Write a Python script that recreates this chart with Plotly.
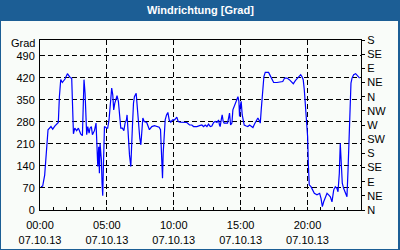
import plotly.graph_objects as go

# ---- data (hours since 00:00 on 07.10.13, wind direction in degrees) ----
hours = [0.07, 0.2, 0.35, 0.45, 0.5, 0.6, 0.82, 0.95, 1.12, 1.37, 1.45, 1.55, 1.67, 1.87,
         2.05, 2.25, 2.37, 2.4, 2.48, 2.5, 2.6, 2.74, 2.87, 3.04, 3.17, 3.24, 3.29, 3.37,
         3.44, 3.49, 3.57, 3.67, 3.74, 3.84, 3.92, 4.07, 4.19, 4.24, 4.32, 4.39, 4.44,
         4.49, 4.59, 4.64, 4.69, 4.74, 4.82, 4.99, 5.06, 5.16, 5.29, 5.36, 5.44, 5.51,
         5.59, 5.69, 5.76, 5.86, 5.96, 6.04, 6.16, 6.27, 6.36, 6.46, 6.51, 6.61, 6.69,
         6.79, 6.86, 6.91, 6.99, 7.06, 7.19, 7.29, 7.36, 7.46, 7.54, 7.61, 7.69, 7.79,
         7.98, 8.18, 8.36, 8.56, 8.73, 8.91, 9.01, 9.06, 9.11, 9.16, 9.21, 9.28, 9.36,
         9.46, 9.56, 9.66, 9.78, 9.91, 10.06, 10.23, 10.33, 10.48, 10.73, 10.98, 11.18,
         11.35, 11.48, 11.73, 11.93, 12.1, 12.23, 12.35, 12.48, 12.6, 12.73, 12.85,
         12.98, 13.1, 13.23, 13.35, 13.42, 13.47, 13.55, 13.62, 13.7, 13.77, 13.9, 14.02,
         14.1, 14.17, 14.25, 14.35, 14.42, 14.52, 14.62, 14.72, 14.8, 14.87, 14.92,
         14.97, 15.04, 15.12, 15.19, 15.27, 15.42, 15.54, 15.67, 15.79, 15.92, 16.04,
         16.17, 16.29, 16.39, 16.47, 16.54, 16.64, 16.74, 16.84, 17.09, 17.22, 17.34,
         17.47, 17.72, 17.97, 18.15, 18.29, 18.47, 18.64, 18.79, 18.94, 19.09, 19.29,
         19.49, 19.58, 19.68, 19.76, 19.86, 19.96, 20.01, 20.06, 20.13, 20.26, 20.36,
         20.51, 20.71, 20.91, 21.01, 21.11, 21.21, 21.33, 21.46, 21.58, 21.71, 21.83,
         21.96, 22.08, 22.2, 22.28, 22.38, 22.45, 22.5, 22.6, 22.7, 22.83, 22.95, 23.03,
         23.1, 23.18, 23.25, 23.33, 23.45, 23.6, 23.75, 23.9]
direction = [74, 76, 111, 170, 223, 255, 265, 257, 267, 278, 360, 414, 405, 416,
             433, 421, 419, 371, 286, 242, 260, 252, 260, 242, 236, 339, 414, 371,
             292, 239, 265, 244, 260, 265, 239, 252, 276, 233, 138, 201, 117,
             212, 159, 85, 45, 138, 265, 260, 260, 286, 350, 387, 366, 318,
             339, 355, 363, 345, 302, 260, 260, 252, 276, 286, 302, 223, 175,
             138, 191, 265, 339, 360, 371, 318, 255, 228, 207, 265, 292, 281,
             278, 255, 265, 268, 265, 263, 255, 201, 138, 101, 180, 239, 286,
             302, 310, 286, 279, 286, 286, 295, 281, 279, 279, 278, 270,
             270, 265, 265, 268, 270, 265, 270, 265, 273, 265, 267,
             278, 281, 278, 286, 270, 265, 286, 302, 281, 276, 276, 276,
             292, 308, 270, 276, 318, 329, 339, 350, 360, 345, 297,
             329, 345, 302, 286, 270, 267, 265, 270, 267, 262, 273,
             281, 292, 284, 276, 318, 382, 424, 437, 437, 426, 414,
             405, 405, 406, 408, 419, 419, 414, 408, 401, 411, 422,
             430, 424, 414, 382, 318, 265, 233, 149, 80, 74, 64,
             53, 48, 53, 37, 11, 26, 42, 53, 48, 42, 26,
             64, 74, 69, 58, 117, 212, 170, 85, 69, 53, 42, 127,
             233, 350, 403, 419, 430, 433, 426, 419]

x_tickvals = [0, 5, 10, 15, 20]
x_ticktext = ["00:00<br>07.10.13", "05:00<br>07.10.13", "10:00<br>07.10.13",
              "15:00<br>07.10.13", "20:00<br>07.10.13"]
y_tickvals = [0, 70, 140, 210, 280, 350, 420, 490]
compass_vals = [0, 45, 90, 135, 180, 225, 270, 315, 360, 405, 450, 495, 540]
compass_text = ["N", "NE", "E", "SE", "S", "SW", "W", "NW", "N", "NE", "E", "SE", "S"]

title_text = "Windrichtung [Grad]"
unit_text = "Grad"

# ---- figure ----
BLUE = "#1c5e95"
BG = "#f9fcf9"
FONT = dict(family="Liberation Sans, Arial, sans-serif", size=11, color="black")

fig = go.Figure()
fig.add_trace(go.Scatter(x=hours, y=direction, mode="lines",
                         line=dict(color="#0000ff", width=1.2), showlegend=False))
# invisible trace to activate the right compass axis
fig.add_trace(go.Scatter(x=[hours[0]], y=[direction[0]], yaxis="y2", mode="lines",
                         line=dict(width=0), showlegend=False, hoverinfo="skip"))

L, R, T, B = 40, 39, 40, 40
PW, PH = 400 - L - R, 250 - T - B


def px(xp):
    return (xp - L) / PW


def py(yp):
    return (250 - B - yp) / PH


fig.update_layout(
    width=400, height=250,
    margin=dict(l=L, r=R, t=T, b=B, pad=0, autoexpand=False),
    paper_bgcolor=BLUE, plot_bgcolor=BG,
    font=FONT,
    xaxis=dict(range=[0, 24], tickvals=x_tickvals, ticktext=x_ticktext,
               showgrid=True, gridcolor="black", gridwidth=1, griddash="5px,3px",
               ticks="inside", ticklen=3, tickcolor="black",
               minor=dict(dtick=1, tick0=0, ticks="inside", ticklen=3,
                          tickcolor="black", showgrid=False),
               showline=True, linecolor="black", linewidth=1, mirror=True,
               zeroline=False, tickfont=FONT, ticklabelstandoff=5,
               automargin=False, fixedrange=True),
    yaxis=dict(range=[0, 540], tickvals=y_tickvals,
               showgrid=True, gridcolor="black", gridwidth=1, griddash="5px,3px",
               ticks="", showline=True, linecolor="black", linewidth=1, mirror=True,
               zeroline=False, tickfont=FONT, ticklabelstandoff=2, automargin=False),
    yaxis2=dict(range=[0, 540], overlaying="y", side="right",
                tickvals=compass_vals, ticktext=compass_text,
                ticks="outside", ticklen=3, tickcolor="black",
                showgrid=False, zeroline=False, showline=False, tickfont=FONT,
                automargin=False),
    shapes=[dict(type="rect", xref="paper", yref="paper", layer="below",
                 x0=px(1), x1=px(398), y0=py(249), y1=py(21),
                 fillcolor=BG, line=dict(width=0))],
    annotations=[
        dict(text="<b>" + title_text + "</b>", xref="paper", yref="paper",
             x=px(200), y=py(10.5), xanchor="center", yanchor="middle",
             showarrow=False,
             font=dict(family="Liberation Sans, Arial, sans-serif", size=11, color="white")),
        dict(text=unit_text, xref="paper", yref="paper", x=px(37), y=py(43),
             xanchor="right", yanchor="middle", showarrow=False, font=FONT),
    ],
)

fig.write_html("out.html")
